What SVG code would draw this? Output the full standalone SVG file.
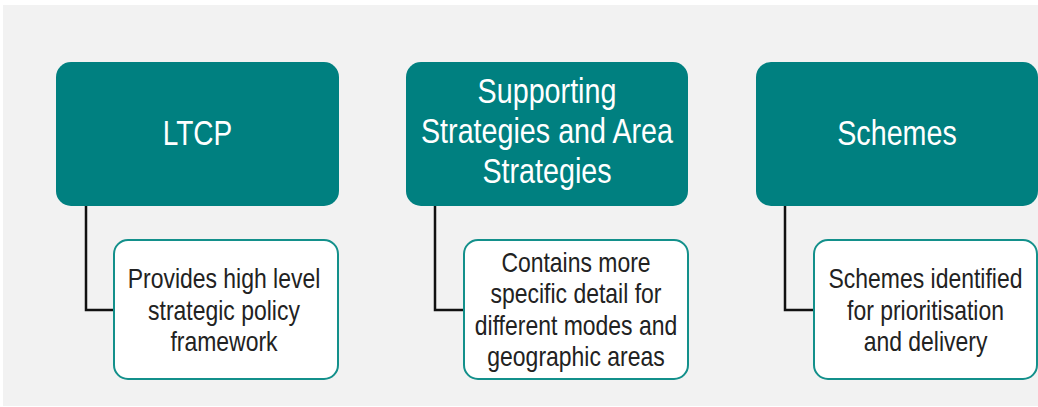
<svg xmlns="http://www.w3.org/2000/svg" width="1038" height="407" viewBox="0 0 1038 407">
<style>
.bg{fill:#f2f2f2}
.head{fill:#008080}
.desc{fill:#ffffff;stroke:#13908b;stroke-width:2}
.ht{font-family:"Liberation Sans",Arial,sans-serif;font-size:35px;fill:#ffffff;text-anchor:middle}
.dt{font-family:"Liberation Sans",Arial,sans-serif;font-size:28px;fill:#222222;text-anchor:middle}
.conn{fill:none;stroke:#111111;stroke-width:2.5}
</style>
<rect x="0" y="0" width="1038" height="407" fill="#ffffff"/>
<rect class="bg" x="3" y="5" width="1035" height="401"/>
<g id="connectors">
<path class="conn" d="M86,205 V310 H114"/>
<path class="conn" d="M435,205 V310 H464"/>
<path class="conn" d="M785,205 V310 H814"/>
</g>
<g id="ltcp">
<rect class="head" x="56" y="62" width="283" height="144" rx="15"/>
<g transform="translate(197.5,0) scale(0.8,1)">
<text class="ht" x="0" y="145">LTCP</text>
</g>
</g>
<g id="supporting">
<rect class="head" x="406" y="62" width="282" height="144" rx="15"/>
<g transform="translate(547,0) scale(0.82,1)">
<text class="ht" x="0" y="103.5">Supporting</text>
<text class="ht" x="0" y="143.5">Strategies and Area</text>
<text class="ht" x="0" y="183">Strategies</text>
</g>
</g>
<g id="schemes">
<rect class="head" x="756" y="62" width="282" height="144" rx="15"/>
<g transform="translate(897,0) scale(0.82,1)">
<text class="ht" x="0" y="145">Schemes</text>
</g>
</g>
<g id="ltcp-desc">
<rect class="desc" x="114" y="240" width="224" height="139" rx="14"/>
<g transform="translate(224,0) scale(0.82,1)">
<text class="dt" x="0" y="288.5">Provides high level</text>
<text class="dt" x="0" y="320">strategic policy</text>
<text class="dt" x="0" y="351.5">framework</text>
</g>
</g>
<g id="supporting-desc">
<rect class="desc" x="464" y="240" width="224" height="139" rx="14"/>
<g transform="translate(576,0) scale(0.82,1)">
<text class="dt" x="0" y="272">Contains more</text>
<text class="dt" x="0" y="303.5">specific detail for</text>
<text class="dt" x="0" y="335">different modes and</text>
<text class="dt" x="0" y="366.5">geographic areas</text>
</g>
</g>
<g id="schemes-desc">
<rect class="desc" x="814" y="240" width="223" height="139" rx="14"/>
<g transform="translate(925.5,0) scale(0.82,1)">
<text class="dt" x="0" y="288.5">Schemes identified</text>
<text class="dt" x="0" y="320">for prioritisation</text>
<text class="dt" x="0" y="351.5">and delivery</text>
</g>
</g>
</svg>
